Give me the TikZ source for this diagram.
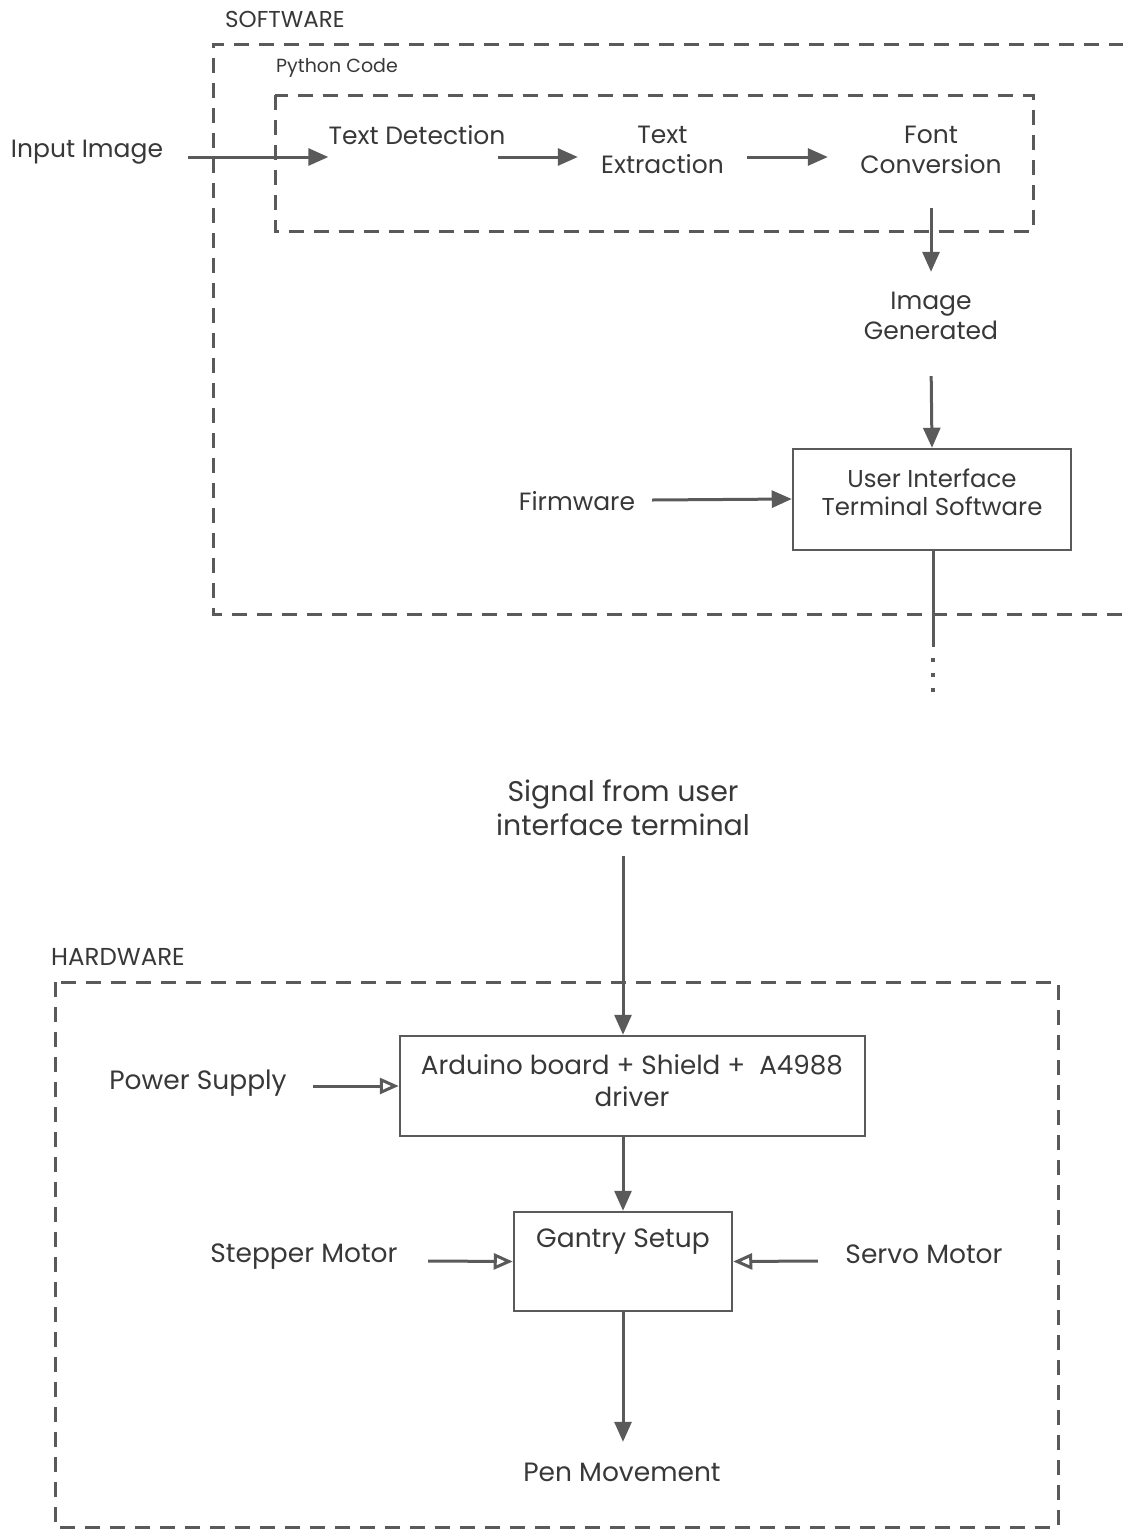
\documentclass[tikz,border=0pt]{standalone}
\usepackage{fontspec}
\setmainfont{Poppins}
\usetikzlibrary{arrows.meta}
\definecolor{txt}{HTML}{383838}
\definecolor{ln}{HTML}{5A5A5A}
\tikzset{
  lbl/.style={text=txt, inner sep=0pt, align=center, font=\fontsize{25}{30}\selectfont},
  hlbl/.style={text=txt, inner sep=0pt, align=center, font=\fontsize{26.5}{30}\selectfont},
  small/.style={text=txt, inner sep=0pt, anchor=west},
  arr/.style={draw=ln, line width=3pt, -{Triangle[length=20pt,width=17pt]}},
  oarr/.style={draw=ln, line width=3pt, -{Triangle[open,length=19pt,width=16pt,fill=white]}},
  dbox/.style={draw=ln, line width=3pt, dash pattern=on 15pt off 10pt},
  blk/.style={draw=ln, line width=2.5pt, inner sep=0pt},
}
\begin{document}
\begin{tikzpicture}[x=1pt,y=-1pt]
\useasboundingbox (0,0) rectangle (1123,1529);
% ---------- SOFTWARE ----------
\node[small, font=\fontsize{23}{26}\selectfont] (swl) at (225,19) {SOFTWARE};
\draw[dbox] (1124,44) -- (213,44) -- (213,614) -- (1124,614);
\node[small, font=\fontsize{19}{22}\selectfont] (pyl) at (276,68) {Python Code};
\draw[dbox] (275,95) rectangle (1033,231);

\node[lbl, minimum width=202pt] (inimg) at (87,152) {Input Image};
\node[lbl, minimum width=169pt] (tdet) at (417,150) {Text Detection\\\phantom{X}};
\node[lbl, minimum width=169pt] (textx) at (662.5,150) {Text\\Extraction};
\node[lbl, minimum width=206pt, minimum height=116pt] (fontc) at (931,150) {Font\\Conversion};
\node[lbl, minimum height=88pt] (imggen) at (931,316) {Image\\Generated};

\node[blk, minimum width=278pt, minimum height=101pt] (ui) at (932,499.5) {};
\node[lbl, font=\fontsize{24.4}{28}\selectfont] (uit) at (932,492) {User Interface\\Terminal Software};
\node[lbl, minimum width=150pt] (firm) at (577,501) {Firmware};

\draw[arr] ([yshift=-5pt]inimg.east) -- ([yshift=-7pt]tdet.west);
\draw[arr] ([xshift=-8pt,yshift=-7pt]tdet.east) -- ([yshift=-7pt]textx.west);
\draw[arr] ([yshift=-7pt]textx.east) -- ([yshift=-7pt]fontc.west);
\draw[arr] (fontc.south) -- (imggen.north);
\draw[arr, shorten <=16pt] (imggen.south) -- (ui.north);
\draw[arr] ([yshift=1pt]firm.east) -- ([yshift=0.5pt]ui.west);

\coordinate (cut) at (933,647);
\coordinate (d1) at (933,658);
\coordinate (d2) at (933,694);
\draw[draw=ln, line width=3pt] ([xshift=1pt]ui.south) -- (cut);
\draw[draw=ln, line width=4pt, dash pattern=on 4pt off 11pt] (d1) -- (d2);

% ---------- signal ----------
\node[lbl, minimum height=96pt, font=\fontsize{28.4}{34}\selectfont] (sig) at (623,808) {Signal from user\\interface terminal};

% ---------- HARDWARE ----------
\node[small, font=\fontsize{24.5}{28}\selectfont] (hwl) at (51,957) {HARDWARE};
\draw[dbox] (55,982) rectangle (1058,1527);

\node[blk, minimum width=465pt, minimum height=100pt] (ard) at (632.5,1086) {};
\node[lbl, font=\fontsize{26.2}{32}\selectfont] (ardt) at (632,1081) {Arduino board + Shield + \ A4988\\driver};
\node[hlbl, minimum width=230pt] (pow) at (198,1083) {Power Supply};

\node[blk, minimum width=218pt, minimum height=99pt] (gan) at (623,1261.5) {};
\node[hlbl] (gant) at (623,1242) {Gantry Setup};
\node[hlbl, minimum width=248pt] (stp) at (304,1257) {Stepper Motor};
\node[hlbl, minimum width=212pt] (srv) at (924,1254) {Servo Motor};
\node[hlbl, minimum height=60pt] (pen) at (622,1472) {Pen Movement};

\draw[arr] (sig.south) -- (sig.south |- ard.north);
\draw[oarr] ([yshift=-3pt]pow.east) -- (ard.west);
\draw[arr] (gan.north |- ard.south) -- (gan.north);
\draw[oarr] ([yshift=-4pt]stp.east) -- (gan.west);
\draw[oarr] ([yshift=-7pt]srv.west) -- (gan.east);
\draw[arr] (gan.south) -- (gan.south |- pen.north);
\end{tikzpicture}
\end{document}
